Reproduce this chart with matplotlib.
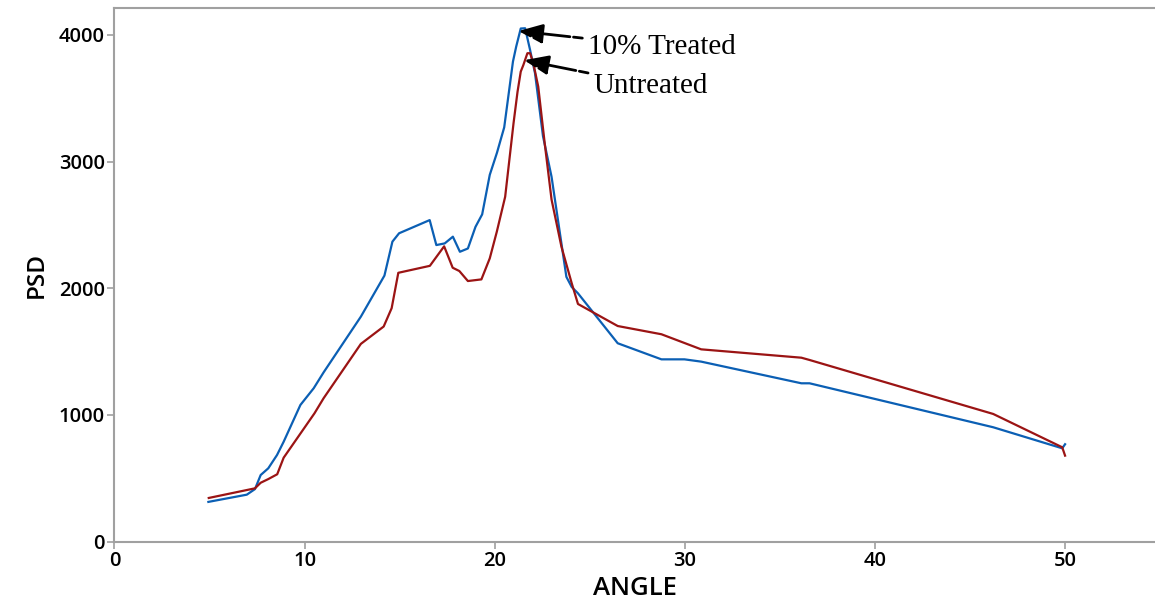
import matplotlib
matplotlib.use("Agg")
import matplotlib.pyplot as plt

# 10% treated (blue)
treated_angle = [4.94, 6.96, 7.39, 7.69, 8.09, 8.55, 8.9, 9.78, 10.48, 11.0, 12.96, 14.2,
                 14.62, 14.97, 16.58, 16.93, 17.37, 17.8, 18.17, 18.59, 18.99, 19.34, 19.74,
                 20.12, 20.5, 20.96, 21.13, 21.37, 21.6, 21.86, 22.12, 22.54, 22.99, 23.77,
                 24.05, 24.38, 26.47, 28.77, 29.98, 30.86, 36.13, 36.56, 46.22, 49.85, 50.0]
treated_psd = [314, 371, 415, 526, 579, 684, 789, 1079, 1211, 1336, 1776, 2100,
               2368, 2434, 2538, 2341, 2354, 2407, 2288, 2314, 2485, 2583, 2895,
               3070, 3270, 3789, 3907, 4050, 4052, 3881, 3697, 3200, 2880, 2090,
               2010, 1960, 1566, 1439, 1439, 1421, 1250, 1250, 903, 737, 769]

# untreated (red)
untreated_angle = [4.96, 7.39, 7.69, 8.09, 8.56, 8.9, 10.52, 11.0, 12.96, 14.16, 14.58,
                   14.93, 16.59, 17.34, 17.79, 18.14, 18.59, 19.3, 19.74, 20.11, 20.55,
                   20.99, 21.2, 21.37, 21.51, 21.72, 21.86, 22.03, 22.29, 22.63, 22.99,
                   23.51, 24.05, 24.38, 26.47, 28.77, 30.86, 36.13, 36.56, 46.22, 49.85, 50.0]
untreated_psd = [345, 421, 465, 494, 532, 663, 1013, 1132, 1561, 1698, 1843,
                 2122, 2177, 2331, 2162, 2136, 2057, 2070, 2236, 2446, 2722,
                 3302, 3550, 3710, 3763, 3855, 3855, 3776, 3591, 3144, 2700,
                 2328, 2040, 1876, 1702, 1637, 1518, 1452, 1434, 1008, 745, 679]

x_ticks = [0, 10, 20, 30, 40, 50]
y_ticks = [0, 1000, 2000, 3000, 4000]

fig = plt.figure(figsize=(11.55, 6.0), dpi=100)
ax = fig.add_axes([0.0991, 0.0972, 0.9009, 0.8895])

ax.plot(treated_angle, treated_psd, color="#0b5fb4", lw=1.6)
ax.plot(untreated_angle, untreated_psd, color="#9b1414", lw=1.6)

ax.set_xlim(0, 54.73)
ax.set_ylim(0, 4212)
ax.set_xticks(x_ticks)
ax.set_yticks(y_ticks)

for s in ["top", "left", "bottom"]:
    ax.spines[s].set_color("#a0a0a0")
    ax.spines[s].set_linewidth(1.5)
ax.spines["right"].set_visible(False)
ax.tick_params(colors="#a0a0a0", length=5, width=1.2, labelcolor="black", pad=2)
for lab in ax.get_xticklabels() + ax.get_yticklabels():
    lab.set_family("Open Sans")
    lab.set_fontsize(14.5)
    lab.set_fontweight("semibold")

ax.set_xlabel("ANGLE", family="Open Sans", fontsize=18.5, fontweight="semibold", labelpad=3)
ax.set_ylabel("PSD", family="Open Sans", fontsize=17.5, fontweight="semibold", labelpad=7)

arrow = dict(arrowstyle="-|>,head_length=0.7,head_width=0.28", color="black", lw=2,
             shrinkA=2, shrinkB=0, linestyle=(0, (3.2, 1.3, 40, 1)))
ax.annotate("10% Treated", xy=(21.25, 4030), xytext=(24.9, 3905),
            fontsize=21, family="Liberation Serif", va="center", ha="left",
            arrowprops=arrow)
ax.annotate("Untreated", xy=(21.55, 3800), xytext=(25.2, 3600),
            fontsize=21, family="Liberation Serif", va="center", ha="left",
            arrowprops=arrow)

fig.savefig("out.png", dpi=100)
